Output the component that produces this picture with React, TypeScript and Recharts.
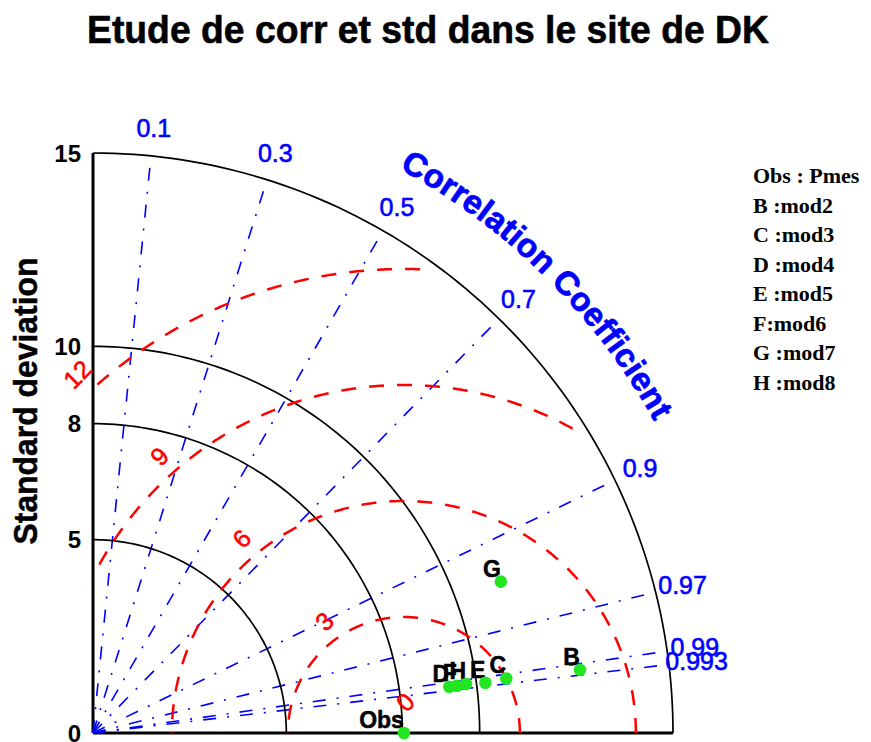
import React from "react";
import { ScatterChart, Scatter, XAxis, YAxis, ReferenceLine } from "recharts";

// std-dev axis
const STD_TICKS = [0, 5, 8, 10, 15];
const STD_ARCS = [5, 8, 10, 15];
// correlation rays
const CORR_TICKS = [0.1, 0.3, 0.5, 0.7, 0.9, 0.97, 0.99, 0.993];
// centred RMS difference circles
const RMS_LEVELS = [3, 6, 9, 12];
const RMS_LABELS = [0, 3, 6, 9, 12];

const OBS_NAME = "Obs";
const OBS_STD = 8.04;

const MODEL_NAMES = ["B", "C", "D", "E", "F", "G", "H"];
const MODEL_STD = [12.7, 10.78, 9.29, 10.23, 9.49, 11.25, 9.73];
const MODEL_CORR = [0.9917, 0.9914, 0.9917, 0.9919, 0.9917, 0.9375, 0.9915];

const LEGEND_LINES = [
  "Obs : Pmes",
  "B :mod2",
  "C :mod3",
  "D :mod4",
  "E :mod5",
  "F:mod6",
  "G :mod7",
  "H :mod8",
];

const TITLE = "Etude de corr et std dans le site de DK";
const Y_LABEL = "Standard deviation";
const CORR_TITLE = "Correlation Coefficient";

// layout
const W = 871;
const H = 742;
const LEFT = 93;
const TOP = 153;
const PLOT = 580;
const MAX_STD = 15;
const PX = PLOT / MAX_STD;
const RAY_R = 14.7;
const CORR_LABEL_R = 15.72;
const RMS_LINE_K = 8.87; // labels of RMS circles sit on x + y = K

const SANS = "'Liberation Sans', Arial, Helvetica, sans-serif";
const SERIF = "'Liberation Serif', 'Times New Roman', serif";
const BLUE = "#0000ff";
const RED = "#ff0000";
const GREEN = "#22e622";

const toXY = (std: number, corr: number) => ({
  x: std * corr,
  y: std * Math.sqrt(1 - corr * corr),
});

const rays = CORR_TICKS.map((c) => [{ x: 0, y: 0 }, toXY(RAY_R, c)]);

const stdArcs = STD_ARCS.map((r) =>
  Array.from({ length: 91 }, (_, i) => {
    const a = (i * Math.PI) / 180;
    return { x: Math.min(r, r * Math.cos(a)), y: Math.min(r, r * Math.sin(a)) };
  })
);

const rmsArcs = RMS_LEVELS.map((r) => {
  const pts: { x: number; y: number }[] = [];
  for (let i = 0; i <= 720; i++) {
    const a = (i * Math.PI) / 720;
    const x = OBS_STD + r * Math.cos(a);
    const y = Math.max(0, r * Math.sin(a));
    if (x >= 0 && Math.hypot(x, y) <= RAY_R) pts.push({ x, y });
  }
  return pts;
});

const obsPoint = { x: OBS_STD, y: 0, name: OBS_NAME };
const modelPoints = MODEL_NAMES.map((name, i) => ({
  ...toXY(MODEL_STD[i], MODEL_CORR[i]),
  name,
}));
const allPoints = [obsPoint, ...modelPoints];

const corrLabelData = CORR_TICKS.map((c) => ({ x: 0, y: 0, c }));
const rmsLabelData = RMS_LABELS.map((r) => ({ x: OBS_STD, y: 0, r }));

const NoDot = () => <g />;

const CorrLabel = (props: any) => {
  const { cx, cy, payload } = props;
  const c = payload.c;
  const s = Math.sqrt(1 - c * c);
  const R = CORR_LABEL_R * PX;
  return (
    <text
      x={cx + R * c}
      y={cy - R * s}
      textAnchor="middle"
      dominantBaseline="central"
      fill={BLUE}
      stroke={BLUE}
      strokeWidth={0.6}
      fontSize={25}
      fontFamily={SANS}
    >
      {String(c)}
    </text>
  );
};

const RmsLabel = (props: any) => {
  const { cx, cy, payload } = props;
  const d = Math.max(payload.r + 0.55, 0.8);
  const a = RMS_LINE_K - OBS_STD;
  const t = (a + Math.sqrt(2 * d * d - a * a)) / 2;
  const dx = (RMS_LINE_K - t - OBS_STD) * PX;
  const dy = t * PX;
  const x = cx + dx;
  const y = cy - dy;
  return (
    <text
      x={x}
      y={y}
      textAnchor="middle"
      dominantBaseline="central"
      fill={RED}
      stroke={RED}
      strokeWidth={0.6}
      fontSize={25}
      fontFamily={SANS}
      transform={`rotate(-45 ${x} ${y})`}
    >
      {payload.r}
    </text>
  );
};

const CurvedTitle = (props: any) => {
  const { cx, cy } = props;
  const R = 642;
  const a0 = (61.5 * Math.PI) / 180;
  const a1 = (28.5 * Math.PI) / 180;
  const p0 = [cx + R * Math.cos(a0), cy - R * Math.sin(a0)];
  const p1 = [cx + R * Math.cos(a1), cy - R * Math.sin(a1)];
  const len = R * (a0 - a1) - 6;
  return (
    <g>
      <path
        id="corr-arc"
        d={`M ${p0[0]} ${p0[1]} A ${R} ${R} 0 0 1 ${p1[0]} ${p1[1]}`}
        fill="none"
        stroke="none"
      />
      <text fill={BLUE} stroke={BLUE} strokeWidth={0.8} fontSize={33} fontWeight="bold" fontFamily={SANS}>
        <textPath href="#corr-arc" textLength={len} lengthAdjust="spacing">
          {CORR_TITLE}
        </textPath>
      </text>
    </g>
  );
};

const PointLabel = (props: any) => {
  const { cx, cy, payload } = props;
  return (
    <text
      x={cx}
      y={cy - 5}
      textAnchor="end"
      fill="#000"
      stroke="#000"
      strokeWidth={0.5}
      fontSize={23}
      fontWeight="bold"
      fontFamily={SANS}
    >
      {payload.name}
    </text>
  );
};

const PointDot = (props: any) => {
  const { cx, cy } = props;
  return <circle cx={cx} cy={cy} r={6.3} fill={GREEN} />;
};

export default function App() {
  return (
    <div style={{ position: "fixed", left: 0, top: 0, width: W, height: H, background: "#fff" }}>
      <ScatterChart
        width={W}
        height={H}
        margin={{ top: TOP, left: LEFT - 60, right: W - LEFT - PLOT, bottom: H - TOP - PLOT }}
      >
        <XAxis type="number" dataKey="x" domain={[0, MAX_STD]} hide />
        <YAxis
          type="number"
          dataKey="y"
          domain={[0, MAX_STD]}
          ticks={STD_TICKS}
          interval={0}
          width={60}
          axisLine={{ stroke: "#000", strokeWidth: 3 }}
          tickLine={false}
          tickSize={6}
          tickMargin={6}
          tick={{ fill: "#000", fontSize: 24, fontWeight: "bold", fontFamily: SANS }}
        />
        <ReferenceLine y={0} stroke="#000" strokeWidth={3} />
        {rays.map((d, i) => (
          <Scatter
            key={`ray-${i}`}
            data={d}
            isAnimationActive={false}
            shape={NoDot}
            line={{ stroke: BLUE, strokeWidth: 1.6, strokeDasharray: "13 11 2 11" }}
          />
        ))}
        {stdArcs.map((d, i) => (
          <Scatter
            key={`std-${i}`}
            data={d}
            isAnimationActive={false}
            shape={NoDot}
            line={{ stroke: "#000", strokeWidth: 1.7 }}
          />
        ))}
        {rmsArcs.map((d, i) => (
          <Scatter
            key={`rms-${i}`}
            data={d}
            isAnimationActive={false}
            shape={NoDot}
            line={{ stroke: RED, strokeWidth: 2.5, strokeDasharray: "15 13" }}
          />
        ))}
        <Scatter data={corrLabelData} isAnimationActive={false} shape={CorrLabel} />
        <Scatter data={rmsLabelData} isAnimationActive={false} shape={RmsLabel} />
        <Scatter data={[{ x: 0, y: 0 }]} isAnimationActive={false} shape={CurvedTitle} />
        <Scatter data={allPoints} isAnimationActive={false} shape={PointLabel} />
        <Scatter data={allPoints} isAnimationActive={false} shape={PointDot} />
      </ScatterChart>
      <svg
        width={W}
        height={H}
        style={{ position: "absolute", left: 0, top: 0, pointerEvents: "none" }}
      >
        <text
          x={428}
          y={43}
          textAnchor="middle"
          fontSize={39}
          fontWeight="bold"
          fontFamily={SANS}
          fill="#000"
          stroke="#000"
          strokeWidth={0.6}
          textLength={682}
          lengthAdjust="spacingAndGlyphs"
        >
          {TITLE}
        </text>
        <text
          x={25}
          y={401}
          textAnchor="middle"
          dominantBaseline="central"
          fontSize={33}
          fontWeight="bold"
          fontFamily={SANS}
          fill="#000"
          stroke="#000"
          strokeWidth={0.5}
          textLength={287}
          lengthAdjust="spacingAndGlyphs"
          transform="rotate(-90 25 401)"
        >
          {Y_LABEL}
        </text>
        {LEGEND_LINES.map((s, i) => (
          <text
            key={s}
            x={753}
            y={183 + i * 29.57}
            fontSize={22}
            fontWeight="bold"
            fontFamily={SERIF}
            fill="#000"
          >
            {s}
          </text>
        ))}
      </svg>
    </div>
  );
}
